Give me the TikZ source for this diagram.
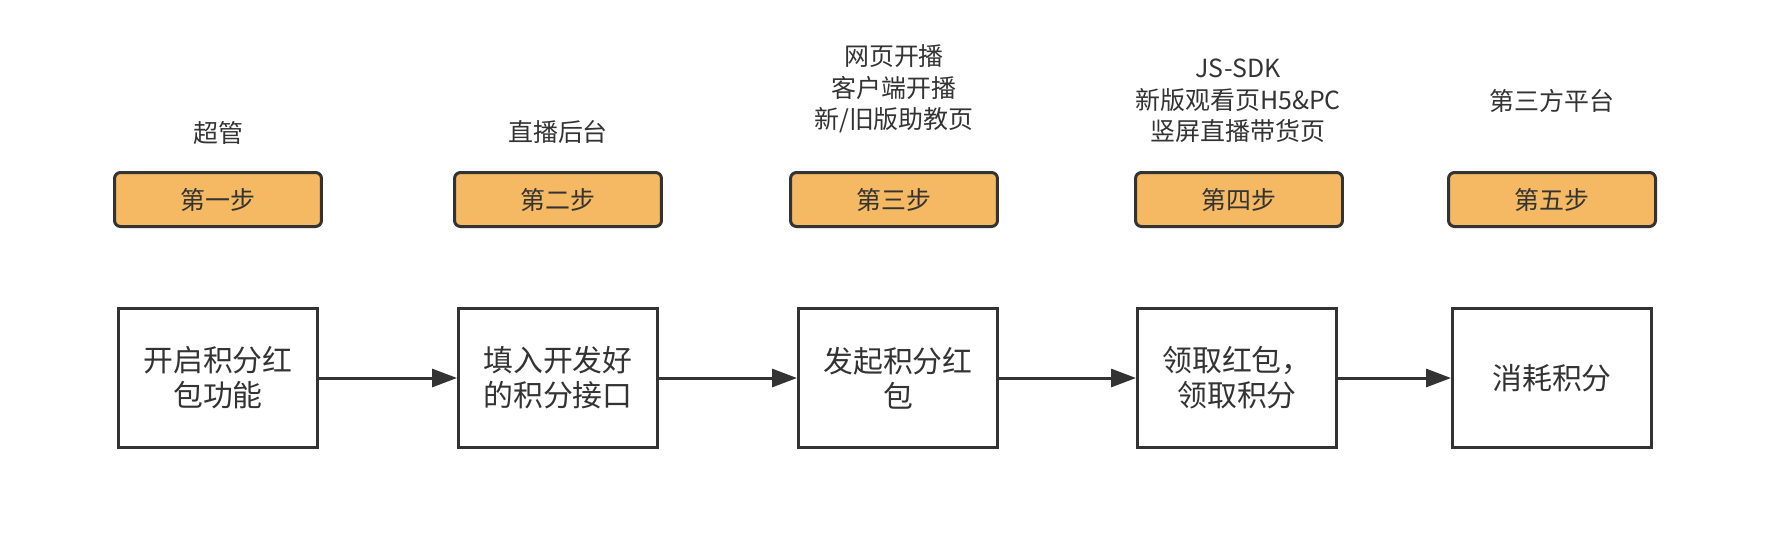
\documentclass[tikz,border=0pt]{standalone}
\usepackage{fontspec}
\setmainfont{Noto Sans CJK SC}
\usetikzlibrary{arrows.meta}
\definecolor{stepfill}{HTML}{F4B962}
\definecolor{inkgray}{HTML}{333333}
\tikzset{
  rolelabel/.style={text=inkgray,align=center,font=\fontsize{14.2}{17.9}\selectfont},
  stepbox/.style={draw=inkgray,line width=0.06cm,fill=stepfill,rounded corners=0.12cm,
    minimum width=4.14cm,minimum height=1.08cm,text=inkgray,font=\fontsize{14.2}{17}\selectfont},
  taskbox/.style={draw=inkgray,line width=0.06cm,fill=white,minimum width=3.98cm,
    minimum height=2.78cm,text=inkgray,align=center,font=\fontsize{17}{19.9}\selectfont},
  flow/.style={draw=inkgray,line width=0.06cm,-{Triangle[length=0.5cm,width=0.36cm]}}
}
\begin{document}
\begin{tikzpicture}[x=0.02cm,y=-0.02cm]
        % the page frame
        \useasboundingbox (0,0) rectangle (1784,552);
        % who does each step
        \node[rolelabel] (role1) at (218,133) {超管};
        \node[rolelabel] (role2) at (558,132) {直播后台};
        \node[rolelabel] (role3) at (894,89) {网页开播\\客户端开播\\新/旧版助教页};
        \node[rolelabel] (role4) at (1238,101) {JS-SDK\\新版观看页H5\&PC\\竖屏直播带货页};
        \node[rolelabel] (role5) at (1552,101) {第三方平台};
        % the step tags
        \node[stepbox] (step1) at (218,199.5) {第一步};
        \node[stepbox] (step2) at (558,199.5) {第二步};
        \node[stepbox] (step3) at (894,199.5) {第三步};
        \node[stepbox] (step4) at (1239,199.5) {第四步};
        \node[stepbox] (step5) at (1552,199.5) {第五步};
        % the tasks
        \node[taskbox] (task1) at (218,378) {开启积分红\\包功能};
        \node[taskbox] (task2) at (558,378) {填入开发好\\的积分接口};
        \node[taskbox] (task3) at (898,378) {发起积分红\\包};
        \node[taskbox] (task4) at (1237,378) {领取红包，\\领取积分};
        \node[taskbox] (task5) at (1552,378) {消耗积分};
        % the arrows between tasks
        \draw[flow] (task1) -- (task2);
        \draw[flow] (task2) -- (task3);
        \draw[flow] (task3) -- (task4);
        \draw[flow] (task4) -- (task5);
\end{tikzpicture}
\end{document}
